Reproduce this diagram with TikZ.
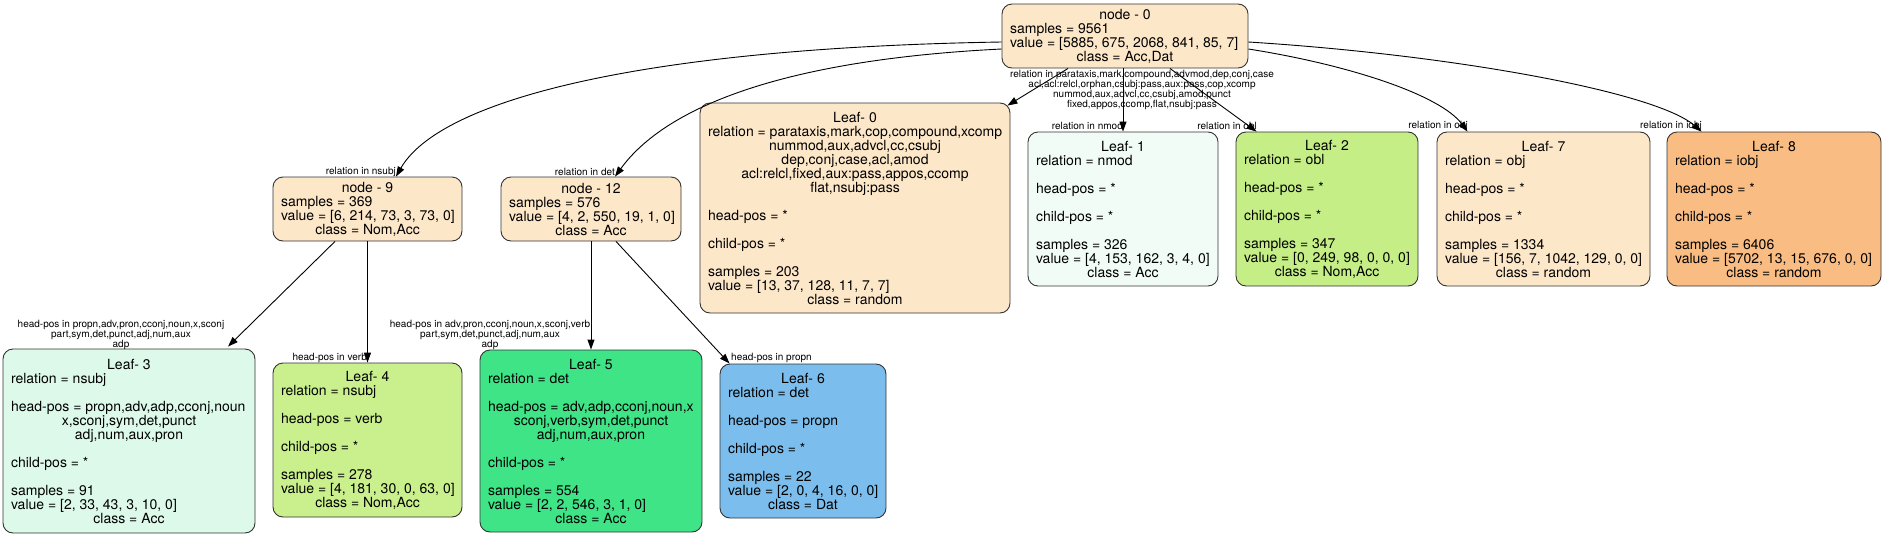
\documentclass[tikz,border=0pt]{standalone}
\usepackage{fontspec}
\setmainfont{TeX Gyre Heros}
\usetikzlibrary{arrows.meta}
\definecolor{cOr}{HTML}{FDE7C9}
\definecolor{cOrD}{HTML}{F9BC82}
\definecolor{cMintA}{HTML}{F2FCF6}
\definecolor{cMintB}{HTML}{DDF9EA}
\definecolor{cLimeA}{HTML}{C5EF86}
\definecolor{cLimeB}{HTML}{C9F08C}
\definecolor{cGreen}{HTML}{3EE486}
\definecolor{cBlue}{HTML}{7BBDEC}
\newcommand\rC[1]{\hbox to\hsize{\hss#1\hss}}
\newcommand\rL[1]{\hbox to\hsize{#1\hss}}
\newcommand\rE{\hbox{}}
\newcommand\tb[2]{\vbox{\hsize=#1pt\relax\lineskiplimit=-20pt\relax #2}}
\begin{document}
\begin{tikzpicture}[x=1pt,y=-1pt,
  tbox/.style={draw=black!80, line width=0.9pt, rounded corners=10pt, inner xsep=8pt, inner ysep=0pt, font=\fontsize{14pt}{14pt}\selectfont},
  elab/.style={inner sep=0pt, align=center, font=\fontsize{10pt}{10pt}\selectfont},
  arr/.style={-{Triangle[length=10pt,width=7pt]}, line width=0.9pt, black}]
\useasboundingbox (0,0) rectangle (1885,536);

% nodes
\node[tbox, fill=cOr, minimum height=64pt] (n0) at (1125,36) {\tb{230}{\rC{node - 0}\rL{samples = 9561}\rL{value = [5885, 675, 2068, 841, 85, 7]}\rC{class = Acc,Dat}}};
\node[tbox, fill=cOr, minimum height=64pt] (n9) at (367.5,209) {\tb{173}{\rC{node - 9}\rL{samples = 369}\rL{value = [6, 214, 73, 3, 73, 0]}\rC{class = Nom,Acc}}};
\node[tbox, fill=cOr, minimum height=64pt] (n12) at (591,209) {\tb{164}{\rC{node - 12}\rL{samples = 576}\rL{value = [4, 2, 550, 19, 1, 0]}\rC{class = Acc}}};

\node[tbox, fill=cOr, minimum height=210pt] (l0) at (855,208) {\tb{294}{\rC{Leaf- 0}\rL{relation = parataxis,mark,cop,compound,xcomp}\rC{nummod,aux,advcl,cc,csubj}\rC{dep,conj,case,acl,amod}\rC{acl:relcl,fixed,aux:pass,appos,ccomp}\rC{flat,nsubj:pass}\rE\rL{head-pos = *}\rE\rL{child-pos = *}\rE\rL{samples = 203}\rL{value = [13, 37, 128, 11, 7, 7]}\rC{class = random}}};
\node[tbox, fill=cMintA, minimum height=154pt] (l1) at (1123,209) {\tb{174}{\rC{Leaf- 1}\rL{relation = nmod}\rE\rL{head-pos = *}\rE\rL{child-pos = *}\rE\rL{samples = 326}\rL{value = [4, 153, 162, 3, 4, 0]}\rC{class = Acc}}};
\node[tbox, fill=cLimeA, minimum height=154pt] (l2) at (1327,209) {\tb{166}{\rC{Leaf- 2}\rL{relation = obl}\rE\rL{head-pos = *}\rE\rL{child-pos = *}\rE\rL{samples = 347}\rL{value = [0, 249, 98, 0, 0, 0]}\rC{class = Nom,Acc}}};
\node[tbox, fill=cOr, minimum height=154pt] (l7) at (1543.5,209) {\tb{197}{\rC{Leaf- 7}\rL{relation = obj}\rE\rL{head-pos = *}\rE\rL{child-pos = *}\rE\rL{samples = 1334}\rL{value = [156, 7, 1042, 129, 0, 0]}\rC{class = random}}};
\node[tbox, fill=cOrD, minimum height=154pt] (l8) at (1774,209) {\tb{198}{\rC{Leaf- 8}\rL{relation = iobj}\rE\rL{head-pos = *}\rE\rL{child-pos = *}\rE\rL{samples = 6406}\rL{value = [5702, 13, 15, 676, 0, 0]}\rC{class = random}}};

\node[tbox, fill=cMintB, minimum height=184pt] (l3) at (129,441) {\tb{236}{\rC{Leaf- 3}\rL{relation = nsubj}\rE\rL{head-pos = propn,adv,adp,cconj,noun}\rC{x,sconj,sym,det,punct}\rC{adj,num,aux,pron}\rE\rL{child-pos = *}\rE\rL{samples = 91}\rL{value = [2, 33, 43, 3, 10, 0]}\rC{class = Acc}}};
\node[tbox, fill=cLimeB, minimum height=154pt] (l4) at (367.5,440) {\tb{173}{\rC{Leaf- 4}\rL{relation = nsubj}\rE\rL{head-pos = verb}\rE\rL{child-pos = *}\rE\rL{samples = 278}\rL{value = [4, 181, 30, 0, 63, 0]}\rC{class = Nom,Acc}}};
\node[tbox, fill=cGreen, minimum height=182pt] (l5) at (591,441) {\tb{206}{\rC{Leaf- 5}\rL{relation = det}\rE\rL{head-pos = adv,adp,cconj,noun,x}\rC{sconj,verb,sym,det,punct}\rC{adj,num,aux,pron}\rE\rL{child-pos = *}\rE\rL{samples = 554}\rL{value = [2, 2, 546, 3, 1, 0]}\rC{class = Acc}}};
\node[tbox, fill=cBlue, minimum height=154pt] (l6) at (803,441) {\tb{150}{\rC{Leaf- 6}\rL{relation = det}\rE\rL{head-pos = propn}\rE\rL{child-pos = *}\rE\rL{samples = 22}\rL{value = [2, 0, 4, 16, 0, 0]}\rC{class = Dat}}};

% edges
\draw[arr] ([yshift=-6pt]n0.west) .. controls (640,48) and (440,100) .. ([xshift=28.5pt]n9.north);
\draw[arr] ([yshift=-13pt]n0.west) .. controls (780,60) and (665,108) .. ([xshift=24pt]n12.north);
\draw[arr] ([xshift=-57pt]n0.south) -- ([xshift=-3pt,yshift=-3pt]l0.north east);
\draw[arr] (l1.north |- n0.south) -- (l1.north);
\draw[arr] ([xshift=45pt]n0.south) -- ([xshift=21pt]l2.north west);
\draw[arr] ([yshift=-13pt]n0.east) .. controls (1350,65) and (1440,95) .. ([xshift=31pt]l7.north west);
\draw[arr] ([yshift=-6pt]n0.east) .. controls (1455,55) and (1655,92) .. ([xshift=35pt]l8.north west);
\draw[arr] ([xshift=-32.5pt]n9.south) -- ([xshift=99pt,yshift=2pt]l3.north);
\draw[arr] (n9.south) -- (l4.north);
\draw[arr] (n12.south) -- (l5.north);
\draw[arr] ([xshift=25pt]n12.south) -- ([xshift=10pt]l6.north west);

% edge labels
\node[elab, anchor=east] (e9) at (396,172) {relation in nsubj};
\node[elab, anchor=east] (e12) at (615,172) {relation in det};
\node[elab] (e0) at (1142,90) {relation in parataxis,mark,compound,advmod,dep,conj,case\\acl,acl:relcl,orphan,csubj:pass,aux:pass,cop,xcomp\\nummod,aux,advcl,cc,csubj,amod,punct\\fixed,appos,ccomp,flat,nsubj:pass};
\node[elab, anchor=east] (e1) at (1123,126) {relation in nmod};
\node[elab, anchor=east] (e2) at (1257,126) {relation in obl};
\node[elab, anchor=east] (e7) at (1468,126) {relation in obj};
\node[elab, anchor=east] (e8) at (1702,126) {relation in iobj};
\node[elab] (e3) at (121,335) {head-pos in propn,adv,pron,cconj,noun,x,sconj\\part,sym,det,punct,adj,num,aux\\adp};
\node[elab, anchor=east] (e4) at (367,358) {head-pos in verb};
\node[elab] (e5) at (490,335) {head-pos in adv,pron,cconj,noun,x,sconj,verb\\part,sym,det,punct,adj,num,aux\\adp};
\node[elab, anchor=west] (e6) at (731,358) {head-pos in propn};
\end{tikzpicture}
\end{document}
